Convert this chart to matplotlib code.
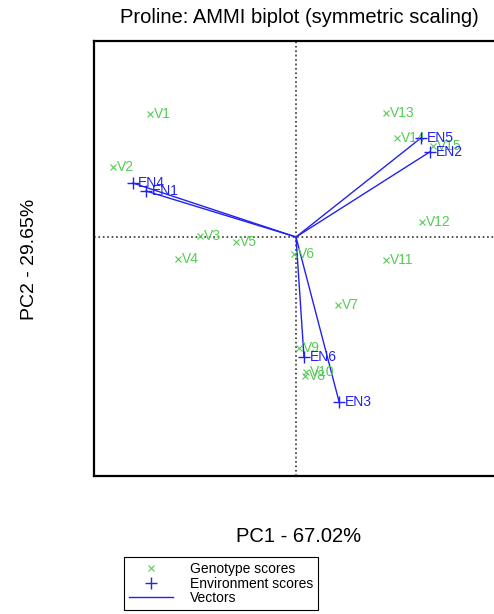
import numpy as np
import matplotlib.pyplot as plt
from matplotlib.lines import Line2D

plt.rcParams['font.family'] = ['Liberation Sans', 'DejaVu Sans']

# genotype scores (PC1, PC2)
gen_names = ["V1", "V2", "V3", "V4", "V5", "V6", "V7", "V8", "V9", "V10",
             "V11", "V12", "V13", "V14", "V15"]
gen_pc1 = [-3.65, -4.58, -2.40, -2.95, -1.50, -0.05, 1.05, 0.23, 0.08, 0.25,
           2.25, 3.15, 2.25, 2.53, 3.43]
gen_pc2 = [3.08, 1.75, 0.03, -0.55, -0.13, -0.43, -1.70, -3.48, -2.78, -3.38,
           -0.58, 0.38, 3.10, 2.48, 2.28]

# environment scores
env_names = ["EN1", "EN2", "EN3", "EN4", "EN5", "EN6"]
env_pc1 = [-3.75, 3.35, 1.08, -4.08, 3.13, 0.20]
env_pc2 = [1.15, 2.13, -4.13, 1.35, 2.48, -3.00]

green = '#55cc55'
blue = '#2222ee'

fig = plt.figure(figsize=(4.94, 6.14), dpi=100)
ax = fig.add_axes([94 / 494, 138 / 614, 410 / 494, 435 / 614])

ax.axhline(0, ls=':', color='#333333', lw=1.2, zorder=1)
ax.axvline(0, ls=':', color='#333333', lw=1.2, zorder=1)

for x, y in zip(env_pc1, env_pc2):
    ax.plot([0, x], [0, y], color=blue, lw=1, zorder=2)

ax.plot(gen_pc1, gen_pc2, 'x', color=green, ms=5, mew=0.8, zorder=3)
for n, x, y in zip(gen_names, gen_pc1, gen_pc2):
    ax.annotate(n, (x, y), xytext=(3, 0), textcoords='offset points',
                ha='left', va='center', color=green, fontsize=10, zorder=3)

ax.plot(env_pc1, env_pc2, '+', color=blue, ms=8, mew=1, zorder=4)
for n, x, y in zip(env_names, env_pc1, env_pc2):
    ax.annotate(n, (x, y), xytext=(4, 0), textcoords='offset points',
                ha='left', va='center', color=blue, fontsize=10, zorder=4)

ax.set_xlim(-5.05, 5.2)
ax.set_ylim(-5.975, 4.9)
ax.set_xticks([])
ax.set_yticks([])
for s in ax.spines.values():
    s.set_linewidth(1.6)

ax.set_title("Proline: AMMI biplot (symmetric scaling)", fontsize=14.5, pad=13)
fig.text(299 / 494, 1 - 537 / 614, "PC1 - 67.02%", ha='center', va='center', fontsize=14.5)
fig.text(30 / 494, 1 - 259 / 614, "PC2 - 29.65%", ha='center', va='center',
         rotation=90, fontsize=14)

handles = [Line2D([], [], ls='none', marker='x', color=green, ms=5, mew=0.8),
           Line2D([], [], ls='none', marker='+', color=blue, ms=8, mew=1),
           Line2D([], [], color=blue, lw=1)]
leg = fig.legend(handles, ["Genotype scores", "Environment scores", "Vectors"],
                 loc='upper left', bbox_to_anchor=(124 / 494, 1 - 557 / 614),
                 borderaxespad=0, fontsize=10, fancybox=False, framealpha=1,
                 edgecolor='black', labelspacing=0.05, handlelength=3.2,
                 handletextpad=1.2, borderpad=0.35)
leg.get_frame().set_linewidth(0.8)

fig.savefig("out.png", dpi=100)
